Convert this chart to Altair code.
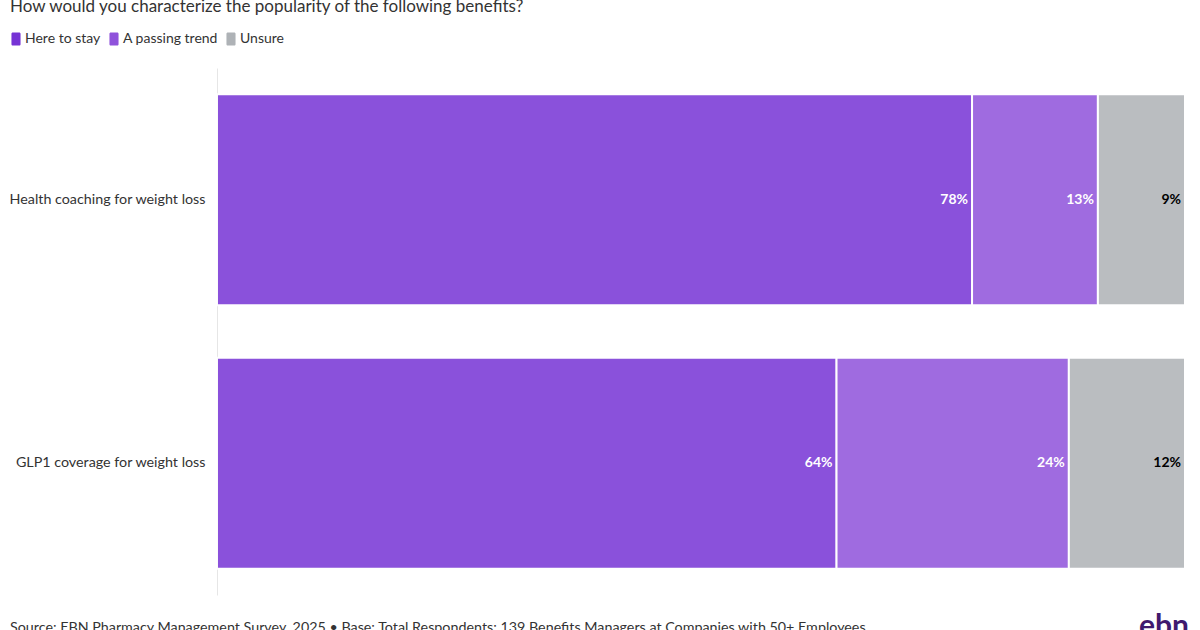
import altair as alt
import pandas as pd

benefits = ["Health coaching for weight loss", "GLP1 coverage for weight loss"]
categories = ["Here to stay", "A passing trend", "Unsure"]
here_to_stay = [78, 64]
passing_trend = [13, 24]
unsure = [9, 12]
colors = ["#7633D5", "#8F52DB", "#AEB2B6"]
label_colors = ["white", "white", "black"]

rows = []
for i, b in enumerate(benefits):
    for j, (c, vals) in enumerate(zip(categories, [here_to_stay, passing_trend, unsure])):
        rows.append({"benefit": b, "category": c, "value": vals[i], "order": j,
                     "label": f"{vals[i]}%", "lcolor": label_colors[j]})
df = pd.DataFrame(rows)

FONT = "Lato"

base = alt.Chart(df).transform_stack(
    stack="value", groupby=["benefit"], as_=["x0", "x1"], sort=[alt.SortField("order")]
)

y_enc = alt.Y("benefit:N", sort=benefits, title=None,
              scale=alt.Scale(paddingInner=0.2, paddingOuter=0.1),
              axis=alt.Axis(ticks=False, domain=True, domainColor="#e6e6e6", labelFont=FONT,
                            labelFontSize=14.3, labelColor="#333333", labelPadding=12, labelLimit=300))

symbol_path = ("M-0.5,-1 h1 a0.2,0.2 0 0 1 0.2,0.2 v1.6 a0.2,0.2 0 0 1 -0.2,0.2 h-1 "
               "a0.2,0.2 0 0 1 -0.2,-0.2 v-1.6 a0.2,0.2 0 0 1 0.2,-0.2 z")

bars = base.mark_bar(stroke="white", strokeWidth=2, opacity=0.85, strokeOpacity=1).encode(
    x=alt.X("x0:Q", scale=alt.Scale(domain=[0, 100], nice=False), axis=None),
    x2="x1:Q",
    y=y_enc,
    color=alt.Color("category:N", sort=categories,
                    scale=alt.Scale(domain=categories, range=colors),
                    legend=alt.Legend(title=None, orient="none", legendX=-208, legendY=-36,
                                      direction="horizontal",
                                      symbolType=symbol_path,
                                      symbolSize=169, symbolOpacity=1,
                                      labelFont=FONT, labelFontSize=14, labelColor="#333333",
                                      columnPadding=6, symbolOffset=0, labelOffset=2,
                                      symbolStrokeWidth=0)),
)

labels = base.mark_text(align="right", baseline="middle", dx=-4, font=FONT, fontSize=14,
                        fontWeight="bold").encode(
    x="x1:Q", y=alt.Y("benefit:N", sort=benefits),
    text="label:N",
    color=alt.Color("lcolor:N", scale=None),
)

footer = alt.Chart(pd.DataFrame({"t": ["Source: EBN Pharmacy Management Survey, 2025 \u2022 Base: Total Respondents: 139 Benefits Managers at Companies with 50+ Employees"]})).mark_text(
    align="left", baseline="top", font=FONT, fontSize=14.3, color="#333333"
).encode(x=alt.value(-207), y=alt.value(553), text="t:N")

logo = alt.Chart(pd.DataFrame({"t": ["ebn"]})).mark_text(
    align="left", baseline="top", font=FONT, fontSize=30, fontWeight="bold", color="#3F1A6E"
).encode(x=alt.value(922), y=alt.value(544), text="t:N")

chart = alt.layer(bars, labels, footer, logo).properties(
    width=968, height=527,
    title=alt.TitleParams("How would you characterize the popularity of the following benefits?",
                          anchor="start", frame="group", dx=-207, font=FONT, fontSize=17,
                          fontWeight="normal", color="#333333", offset=16),
    padding={"left": 217, "top": 68, "right": 15, "bottom": 35},
    autosize=alt.AutoSizeParams(type="none"),
).configure(background="white").configure_view(stroke=None, strokeWidth=0)

chart.save("out.html", embed_options={"renderer": "svg", "actions": False})
